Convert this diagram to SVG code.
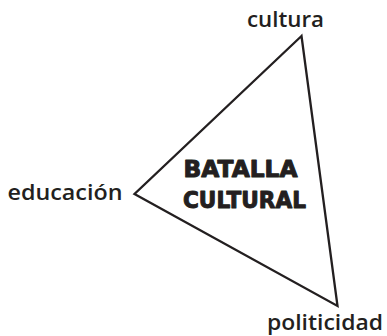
<svg xmlns="http://www.w3.org/2000/svg" width="387" height="336" viewBox="0 0 387 336">
<style>
.lbl{font-family:"Open Sans","DejaVu Sans",sans-serif;font-weight:600;font-size:22px;fill:#231f20}
.title{font-family:"DejaVu Sans","Liberation Sans",sans-serif;font-weight:bold;font-size:22.5px;fill:#231f20;stroke:#231f20;stroke-width:1;stroke-linejoin:round;text-anchor:middle}
.edge{fill:none;stroke:#231f20;stroke-width:2.3;stroke-linejoin:miter}
</style>
<rect width="387" height="336" fill="#ffffff"/>
<g id="connectors">
<path class="edge" d="M301.5,36 L134.5,194 L337.5,306 Z"/>
</g>
<g id="node-center">
<text class="title" x="240.5" y="177" textLength="114" lengthAdjust="spacingAndGlyphs">BATALLA</text>
<text class="title" x="244.5" y="208" textLength="123" lengthAdjust="spacingAndGlyphs">CULTURAL</text>
</g>
<g id="node-cultura">
<text class="lbl" x="247" y="26.7" textLength="77" lengthAdjust="spacingAndGlyphs">cultura</text>
</g>
<g id="node-educacion">
<text class="lbl" x="7.5" y="200" textLength="115" lengthAdjust="spacingAndGlyphs">educación</text>
</g>
<g id="node-politicidad">
<text class="lbl" x="267" y="330" textLength="116" lengthAdjust="spacingAndGlyphs">politicidad</text>
</g>
</svg>
